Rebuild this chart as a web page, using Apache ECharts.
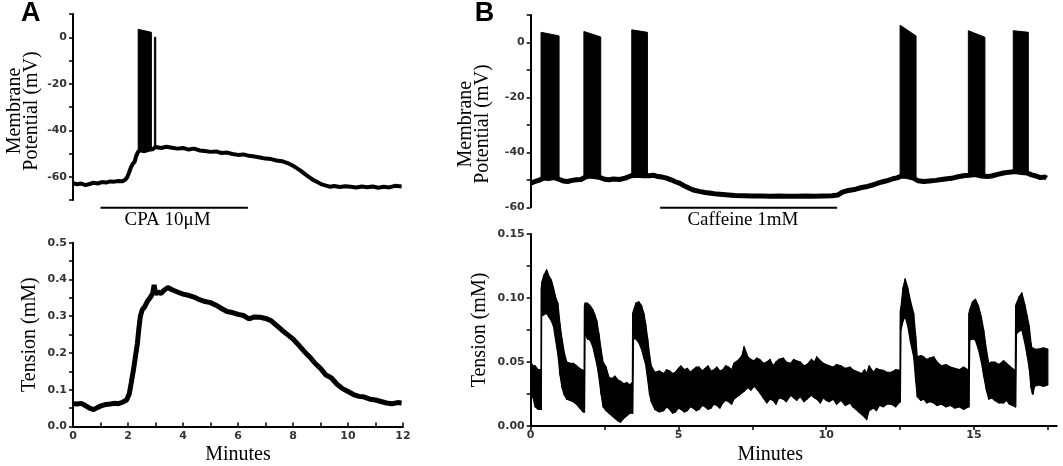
<!DOCTYPE html>
<html>
<head>
<meta charset="utf-8">
<script src="https://cdn.jsdelivr.net/npm/echarts@6/dist/echarts.min.js"></script>
<style>html,body{margin:0;padding:0;background:#fff}#c{width:1063px;height:466px}</style>
</head>
<body>
<div id="c"></div>
<script>
// ---- Panel A: membrane potential (minutes, mV) ----
const aVmTime = [0,0.15,0.3,0.45,0.6,0.75,0.9,1.05,1.2,1.35,1.5,1.65,1.8,1.9,1.97,2.03,2.1,2.17,2.24,2.3,2.37,2.45,2.6,2.75,2.9,3.0,3.2,3.4,3.6,3.8,4.0,4.2,4.4,4.6,4.8,5.0,5.2,5.4,5.6,5.8,6.0,6.2,6.4,6.6,6.8,7.0,7.2,7.4,7.6,7.8,8.0,8.15,8.3,8.45,8.6,8.75,8.9,9.05,9.2,9.35,9.5,9.7,9.9,10.1,10.3,10.5,10.7,10.9,11.1,11.3,11.5,11.7,11.95];
const aVm = [-62.8,-63.2,-62.9,-63.6,-63.1,-62.6,-62.9,-62.3,-62.5,-62.0,-62.1,-61.8,-61.9,-61.3,-60.2,-58.5,-56.2,-54.5,-53.6,-51.0,-49.2,-48.6,-49.0,-48.4,-48.2,-47.2,-47.6,-47.1,-47.5,-47.9,-47.6,-48.3,-47.9,-48.7,-48.9,-49.3,-49.1,-49.8,-49.6,-50.2,-50.6,-50.4,-51.0,-51.3,-51.7,-52.2,-52.4,-53.0,-53.3,-54.1,-55.3,-56.4,-57.6,-59.0,-60.3,-61.5,-62.4,-63.3,-63.8,-64.3,-64.0,-64.4,-64.1,-64.3,-64.6,-64.2,-64.5,-64.2,-64.7,-64.3,-64.6,-63.9,-64.2];
// spike bursts: [start min, end min, base mV, top at start, top at end]
const aBursts = [[2.37,2.85,-48.5,3.4,2.1],[2.96,3.01,-47.5,0.0,0.0]];

// ---- Panel A: tension ----
const aTenTime = [0,0.15,0.3,0.45,0.6,0.75,0.9,1.05,1.2,1.35,1.5,1.65,1.8,1.95,2.05,2.12,2.2,2.27,2.34,2.4,2.45,2.52,2.6,2.7,2.8,2.9,2.95,3.0,3.1,3.2,3.3,3.45,3.6,3.8,4.0,4.2,4.4,4.6,4.8,5.0,5.2,5.4,5.6,5.8,6.0,6.2,6.4,6.6,6.8,7.0,7.2,7.4,7.6,7.8,8.0,8.2,8.4,8.6,8.8,9.0,9.2,9.4,9.6,9.8,10.0,10.2,10.4,10.6,10.8,11.0,11.2,11.4,11.6,11.8,11.95];
const aTen = [0.062,0.061,0.063,0.057,0.05,0.046,0.052,0.057,0.06,0.061,0.063,0.062,0.066,0.072,0.09,0.12,0.155,0.19,0.225,0.27,0.3,0.318,0.325,0.34,0.35,0.362,0.385,0.36,0.366,0.362,0.37,0.378,0.372,0.366,0.36,0.357,0.352,0.345,0.34,0.337,0.33,0.321,0.313,0.31,0.305,0.302,0.293,0.298,0.297,0.294,0.288,0.275,0.262,0.25,0.238,0.222,0.205,0.19,0.172,0.158,0.14,0.132,0.115,0.103,0.095,0.087,0.082,0.08,0.074,0.072,0.068,0.064,0.062,0.065,0.064];

// ---- Panel B: membrane potential ----
const bVmTime = [0,0.15,0.3,0.45,0.6,0.8,0.95,1.1,1.25,1.4,1.55,1.7,1.85,2.0,2.2,2.35,2.5,2.65,2.8,3.0,3.2,3.4,3.6,3.8,4.0,4.15,4.3,4.45,4.6,4.75,4.9,5.05,5.2,5.35,5.5,5.7,5.9,6.1,6.3,6.6,6.9,7.2,7.5,7.8,8.1,8.4,8.7,9.0,9.3,9.6,9.9,10.2,10.4,10.55,10.7,10.85,11.0,11.2,11.4,11.6,11.8,11.95,12.1,12.25,12.4,12.55,12.75,12.95,13.1,13.3,13.5,13.7,13.9,14.1,14.3,14.5,14.7,14.85,15.05,15.25,15.45,15.6,15.8,16.0,16.2,16.4,16.6,16.8,16.95,17.1,17.25,17.4,17.46];
const bVm = [-51.2,-50.6,-50.1,-49.3,-49.5,-49.2,-49.8,-50.4,-50.6,-50.2,-50.0,-49.9,-49.0,-48.6,-48.9,-49.2,-49.8,-50.0,-49.7,-49.9,-49.4,-48.5,-48.3,-48.5,-48.5,-48.3,-48.8,-49.0,-49.4,-50.0,-50.7,-51.3,-52.2,-53.0,-53.7,-54.2,-54.6,-54.9,-55.2,-55.4,-55.7,-55.8,-55.9,-55.9,-56.0,-55.9,-56.0,-56.0,-55.9,-56.0,-55.9,-55.8,-55.5,-54.5,-54.0,-53.7,-53.4,-52.8,-52.4,-51.8,-51.0,-50.6,-50.2,-49.6,-49.3,-48.6,-48.8,-49.4,-50.3,-50.6,-50.4,-50.2,-49.9,-49.6,-49.3,-48.8,-48.4,-48.3,-48.1,-48.6,-48.8,-48.6,-48.0,-47.5,-47.2,-47.0,-47.3,-47.5,-48.2,-48.6,-49.2,-49.0,-49.4];
const bBursts = [[0.35,0.96,-49.5,3.7,2.4],[1.8,2.37,-49.0,4.0,2.0],[3.42,3.95,-48.5,4.6,3.7],[12.5,13.04,-49.0,6.3,2.4],[14.81,15.37,-48.3,4.3,1.9],[16.33,16.84,-47.2,4.3,3.7]];

// ---- Panel B: tension envelope (lower / upper edge of the noisy trace) ----
const bTenTime = [0,0.08,0.15,0.25,0.35,0.36,0.37,0.45,0.54,0.62,0.7,0.77,0.85,0.92,0.99,1.06,1.14,1.22,1.33,1.44,1.55,1.66,1.77,1.81,1.82,1.84,1.92,2.01,2.1,2.17,2.24,2.31,2.38,2.45,2.55,2.65,2.75,2.85,2.95,3.04,3.15,3.25,3.35,3.44,3.45,3.48,3.56,3.66,3.75,3.83,3.89,3.96,4.02,4.08,4.2,4.35,4.5,4.6,4.7,4.8,4.9,5.0,5.08,5.2,5.3,5.4,5.5,5.6,5.7,5.8,5.9,6.0,6.1,6.2,6.3,6.4,6.5,6.6,6.7,6.8,6.88,7.05,7.15,7.22,7.35,7.45,7.56,7.65,7.75,7.87,7.99,8.1,8.2,8.3,8.4,8.55,8.65,8.8,8.9,9.0,9.12,9.25,9.35,9.5,9.6,9.68,9.8,9.9,10.0,10.1,10.24,10.35,10.5,10.65,10.81,10.9,11.0,11.1,11.2,11.3,11.37,11.45,11.6,11.7,11.8,11.93,12.05,12.2,12.35,12.5,12.51,12.53,12.6,12.67,12.76,12.85,12.96,13.03,13.08,13.2,13.3,13.4,13.5,13.64,13.75,13.9,14.05,14.2,14.35,14.5,14.65,14.82,14.83,14.86,14.95,15.05,15.15,15.25,15.33,15.42,15.5,15.6,15.7,15.85,16.0,16.1,16.2,16.3,16.4,16.41,16.44,16.53,16.62,16.72,16.8,16.87,16.93,16.98,17.0,17.05,17.2,17.35,17.5];
const bTenLow = [0.026,0.022,0.015,0.013,0.013,0.013,0.086,0.087,0.088,0.085,0.082,0.078,0.066,0.056,0.04,0.03,0.024,0.021,0.02,0.019,0.017,0.014,0.011,0.011,0.011,0.072,0.068,0.067,0.062,0.055,0.048,0.038,0.025,0.015,0.012,0.01,0.008,0.006,0.004,0.003,0.006,0.008,0.01,0.01,0.01,0.068,0.068,0.065,0.06,0.053,0.048,0.036,0.025,0.019,0.013,0.011,0.012,0.015,0.013,0.01,0.011,0.014,0.013,0.011,0.012,0.015,0.014,0.012,0.013,0.016,0.015,0.013,0.014,0.017,0.016,0.014,0.018,0.02,0.019,0.017,0.021,0.024,0.026,0.027,0.03,0.028,0.031,0.029,0.026,0.022,0.018,0.021,0.02,0.017,0.022,0.021,0.019,0.024,0.022,0.02,0.023,0.019,0.021,0.024,0.022,0.021,0.018,0.022,0.02,0.019,0.021,0.017,0.02,0.016,0.018,0.015,0.013,0.011,0.009,0.007,0.005,0.012,0.014,0.012,0.016,0.015,0.017,0.017,0.015,0.019,0.019,0.075,0.082,0.0855,0.078,0.066,0.054,0.035,0.023,0.02,0.021,0.018,0.019,0.018,0.016,0.017,0.015,0.016,0.014,0.015,0.013,0.015,0.015,0.067,0.068,0.067,0.06,0.05,0.039,0.028,0.021,0.022,0.02,0.018,0.018,0.02,0.017,0.016,0.015,0.015,0.072,0.074,0.075,0.065,0.055,0.045,0.03,0.025,0.025,0.031,0.032,0.031,0.032];
const bTenHigh = [0.05,0.047,0.047,0.044,0.044,0.108,0.112,0.118,0.122,0.117,0.114,0.108,0.1,0.096,0.08,0.068,0.057,0.05,0.049,0.049,0.047,0.045,0.0435,0.043,0.094,0.096,0.096,0.094,0.091,0.087,0.082,0.072,0.06,0.05,0.046,0.038,0.037,0.039,0.036,0.035,0.033,0.034,0.032,0.034,0.088,0.09,0.096,0.097,0.094,0.088,0.08,0.068,0.056,0.047,0.042,0.043,0.041,0.044,0.043,0.041,0.042,0.045,0.047,0.044,0.045,0.042,0.044,0.046,0.046,0.043,0.045,0.047,0.043,0.044,0.046,0.043,0.044,0.047,0.046,0.044,0.049,0.052,0.055,0.062,0.054,0.052,0.051,0.053,0.052,0.049,0.05,0.052,0.047,0.05,0.052,0.053,0.05,0.049,0.052,0.051,0.05,0.047,0.048,0.052,0.05,0.054,0.051,0.049,0.048,0.047,0.046,0.048,0.047,0.045,0.046,0.044,0.043,0.042,0.041,0.044,0.041,0.047,0.042,0.045,0.044,0.0435,0.042,0.042,0.044,0.0435,0.09,0.093,0.108,0.115,0.108,0.098,0.088,0.07,0.054,0.055,0.054,0.052,0.053,0.054,0.05,0.047,0.048,0.046,0.045,0.044,0.046,0.0435,0.088,0.091,0.097,0.099,0.094,0.085,0.075,0.06,0.049,0.05,0.05,0.048,0.051,0.049,0.047,0.045,0.0435,0.094,0.096,0.101,0.104,0.095,0.086,0.078,0.065,0.058,0.061,0.06,0.06,0.061,0.06];

// ---- annotations ----
const treatments = [
  {grid: 0, text: 'CPA 10\u03bcM', from: 1.0, to: 6.36, level: -73.3, textAt: 3.44},
  {grid: 2, text: 'Caffeine 1mM', from: 4.38, to: 10.37, level: -60.2, textAt: 7.18}
];
const panelLetters = ['A', 'B'];

const zip = (xs, ys) => xs.map((x, i) => [x, ys[i]]);
const SERIF = '"Liberation Serif", "Times New Roman", serif';
const SANS = '"DejaVu Sans", Verdana, sans-serif';
const tickLabel = {fontFamily: SANS, fontSize: 11, fontWeight: 'bold', color: '#333'};
const axLine = {show: true, onZero: false, lineStyle: {color: '#000', width: 2}};
const axTick = {show: true, length: 4, lineStyle: {color: '#000', width: 1.5}};
const nameStyle = {fontFamily: SERIF, fontSize: 20, color: '#000', lineHeight: 17};
const near = (v, step) => Math.abs(v / step - Math.round(v / step)) < 1e-6;

const chart = echarts.init(document.getElementById('c'), null, {renderer: 'canvas'});

function burstItem(params, api) {
  const s = api.value(0), e = api.value(1), b = api.value(2), t0 = api.value(3), t1 = api.value(4);
  return {
    type: 'polygon',
    shape: {points: [api.coord([s, b]), api.coord([s, t0]), api.coord([e, t1]), api.coord([e, b])]},
    style: {fill: '#000', stroke: '#000', lineWidth: 1}
  };
}
// band segment between consecutive envelope samples
function bandItem(params, api) {
  const i = params.dataIndexInside;
  if (i >= params.dataInsideLength - 1) return null;
  const t0 = api.value(0, i), l0 = api.value(1, i), h0 = api.value(2, i);
  const t1 = api.value(0, i + 1), l1 = api.value(1, i + 1), h1 = api.value(2, i + 1);
  return {
    type: 'polygon',
    shape: {points: [api.coord([t0, l0]), api.coord([t0, h0]), api.coord([t1, h1]), api.coord([t1, l1])]},
    style: {fill: '#000', stroke: '#000', lineWidth: 1.2, lineJoin: 'round'}
  };
}

const option = {
  animation: false,
  backgroundColor: '#fff',
  grid: [
    {left: 73, top: 14, width: 330, height: 186},
    {left: 73, top: 242.7, width: 330, height: 185.3},
    {left: 530.7, top: 15, width: 526, height: 192.3},
    {left: 530.7, top: 234, width: 526, height: 192}
  ],
  xAxis: [
    {type: 'value', gridIndex: 0, min: 0, max: 12, show: false, splitLine: {show: false}},
    {type: 'value', gridIndex: 1, min: 0, max: 12, interval: 1, axisLine: axLine, axisTick: Object.assign({inside: true}, axTick),
      splitLine: {show: false},
      axisLabel: Object.assign({margin: 4, formatter: v => near(v, 2) ? String(v) : ''}, tickLabel),
      name: 'Minutes', nameLocation: 'middle', nameGap: 20, nameTextStyle: nameStyle},
    {type: 'value', gridIndex: 2, min: 0, max: 17.8, show: false, splitLine: {show: false}},
    {type: 'value', gridIndex: 3, min: 0, max: 17.8, interval: 2.5, axisLine: axLine, axisTick: axTick,
      splitLine: {show: false},
      axisLabel: Object.assign({margin: 4, showMaxLabel: false, formatter: v => near(v, 5) ? String(v) : ''}, tickLabel),
      name: 'Minutes', nameLocation: 'middle', nameGap: 20,
      nameTextStyle: Object.assign({padding: [0, 47, 0, 0]}, nameStyle)}
  ],
  yAxis: [
    {type: 'value', gridIndex: 0, min: -70, max: 10, interval: 10, axisLine: axLine, axisTick: axTick, splitLine: {show: false},
      axisLabel: Object.assign({margin: 6, formatter: v => (near(v, 20) && v > -70 && v < 10) ? String(v) : ''}, tickLabel),
      name: 'Membrane\nPotential (mV)', nameLocation: 'middle', nameRotate: 90, nameGap: 33,
      nameTextStyle: Object.assign({padding: [0, 8, 0, 0]}, nameStyle)},
    {type: 'value', gridIndex: 1, min: 0, max: 0.5, interval: 0.05, axisLine: axLine, axisTick: axTick, splitLine: {show: false},
      axisLabel: Object.assign({margin: 6, formatter: v => near(v, 0.1) ? v.toFixed(1) : ''}, tickLabel),
      name: 'Tension (mM)', nameLocation: 'middle', nameRotate: 90, nameGap: 35, nameTextStyle: nameStyle},
    {type: 'value', gridIndex: 2, min: -60, max: 10, interval: 10, axisLine: axLine, axisTick: axTick, splitLine: {show: false},
      axisLabel: Object.assign({margin: 6, formatter: v => (near(v, 20) && v < 10) ? String(v) : ''}, tickLabel),
      name: 'Membrane\nPotential (mV)', nameLocation: 'middle', nameRotate: 90, nameGap: 39,
      nameTextStyle: Object.assign({padding: [0, 26, 0, 0]}, nameStyle)},
    {type: 'value', gridIndex: 3, min: 0, max: 0.15, interval: 0.025, axisLine: axLine, axisTick: axTick, splitLine: {show: false},
      axisLabel: Object.assign({margin: 6, formatter: v => near(v, 0.05) ? v.toFixed(2) : ''}, tickLabel),
      name: 'Tension (mM)', nameLocation: 'middle', nameRotate: 90, nameGap: 42, nameTextStyle: nameStyle}
  ],
  series: [
    {type: 'line', xAxisIndex: 0, yAxisIndex: 0, data: zip(aVmTime, aVm), showSymbol: false, symbol: 'none',
      lineStyle: {color: '#000', width: 4}, silent: true},
    {type: 'custom', xAxisIndex: 0, yAxisIndex: 0, data: aBursts, renderItem: burstItem,
      encode: {x: [0, 1], y: [2, 3, 4]}, silent: true},
    {type: 'line', xAxisIndex: 1, yAxisIndex: 1, data: zip(aTenTime, aTen), showSymbol: false, symbol: 'none',
      lineStyle: {color: '#000', width: 5}, silent: true},
    {type: 'line', xAxisIndex: 2, yAxisIndex: 2, data: zip(bVmTime, bVm), showSymbol: false, symbol: 'none',
      lineStyle: {color: '#000', width: 5}, silent: true},
    {type: 'custom', xAxisIndex: 2, yAxisIndex: 2, data: bBursts, renderItem: burstItem,
      encode: {x: [0, 1], y: [2, 3, 4]}, silent: true},
    {type: 'custom', xAxisIndex: 3, yAxisIndex: 3,
      data: bTenTime.map((t, i) => [t, bTenLow[i], bTenHigh[i]]),
      renderItem: bandItem, encode: {x: 0, y: [1, 2]}, silent: true}
  ]
};
chart.setOption(option);

// annotation bars + labels and panel letters, positioned via the chart's own coordinate system
const graphics = [];
treatments.forEach(t => {
  const p0 = chart.convertToPixel({gridIndex: t.grid}, [t.from, t.level]);
  const p1 = chart.convertToPixel({gridIndex: t.grid}, [t.to, t.level]);
  const pt = chart.convertToPixel({gridIndex: t.grid}, [t.textAt, t.level]);
  graphics.push({type: 'line', shape: {x1: p0[0], y1: p0[1], x2: p1[0], y2: p1[1]},
    style: {stroke: '#000', lineWidth: 2}, silent: true});
  graphics.push({type: 'text', x: pt[0], y: pt[1] + 12,
    style: {text: t.text, fill: '#000', font: '19px ' + SERIF, textAlign: 'center', textVerticalAlign: 'middle'}, silent: true});
});
[0, 2].forEach((g, i) => {
  const origin = chart.convertToPixel({gridIndex: g}, [0, 0]);
  graphics.push({type: 'text', x: origin[0] - (i === 0 ? 52 : 56), y: 0,
    style: {text: panelLetters[i], fill: '#000', font: 'bold 27px "Liberation Sans", Arial, sans-serif', textAlign: 'left', textVerticalAlign: 'top'}, silent: true});
});
chart.setOption({graphic: graphics});
</script>
</body>
</html>
